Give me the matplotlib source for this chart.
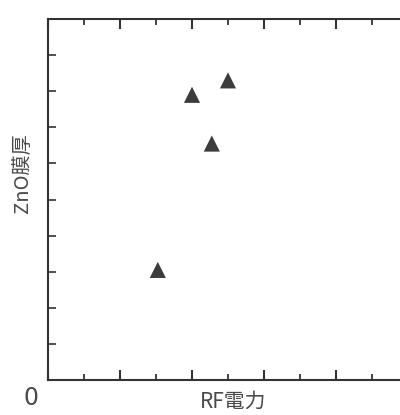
#!/usr/bin/env python3

import matplotlib

matplotlib.use("Agg")
import matplotlib.pyplot as plt
from matplotlib.ticker import MultipleLocator

plt.rcParams["font.family"] = ["Noto Sans CJK JP", "DejaVu Sans"]

# RF power vs ZnO film thickness (arbitrary units)
rf_power = [3.05, 4.0, 4.55, 5.0]
zno_thickness = [3.05, 7.9, 6.55, 8.3]

x_label = "RF電力"
y_label = "ZnO膜厚"
origin_label = "0"

line_color = "#333333"
text_color = "#4a4a4a"


def main() -> None:
    fig = plt.figure(figsize=(4.0, 4.15), dpi=100)
    # axes run past the right edge of the figure, as in the scanned original
    ax = fig.add_axes([0.12, 0.0843, 0.90, 0.8699])

    ax.scatter(rf_power, zno_thickness, marker="^", s=135, color="#3c3c3c",
               edgecolors="none", zorder=3)

    ax.set_xlim(0, 10)
    ax.set_ylim(0, 10)

    for side in ("left", "bottom", "top"):
        ax.spines[side].set_linewidth(1.5)
        ax.spines[side].set_color(line_color)
    ax.spines["right"].set_visible(False)

    ax.xaxis.set_major_locator(MultipleLocator(2))
    ax.xaxis.set_minor_locator(MultipleLocator(1))
    ax.yaxis.set_major_locator(MultipleLocator(1))
    ax.tick_params(axis="x", which="major", direction="in", length=7, width=1.5,
                   color=line_color, top=True, bottom=True,
                   labelbottom=False, labeltop=False)
    ax.tick_params(axis="x", which="minor", direction="in", length=4, width=1.3,
                   color=line_color, top=True, bottom=True)
    ax.tick_params(axis="y", which="major", direction="in", length=6, width=1.2,
                   color=line_color, left=True, right=False, labelleft=False)

    ax.text(-0.046, -0.049, origin_label, transform=ax.transAxes, fontsize=17,
            color=text_color, ha="center", va="center", family="DejaVu Sans")
    ax.text(0.514, -0.092, x_label, transform=ax.transAxes, fontsize=15,
            color=text_color, ha="center", va="bottom")
    ax.text(-0.072, 0.572, y_label, transform=ax.transAxes, fontsize=14.5,
            color=text_color, ha="center", va="center", rotation=90)

    fig.savefig("out.png", dpi=100)


if __name__ == "__main__":
    main()
